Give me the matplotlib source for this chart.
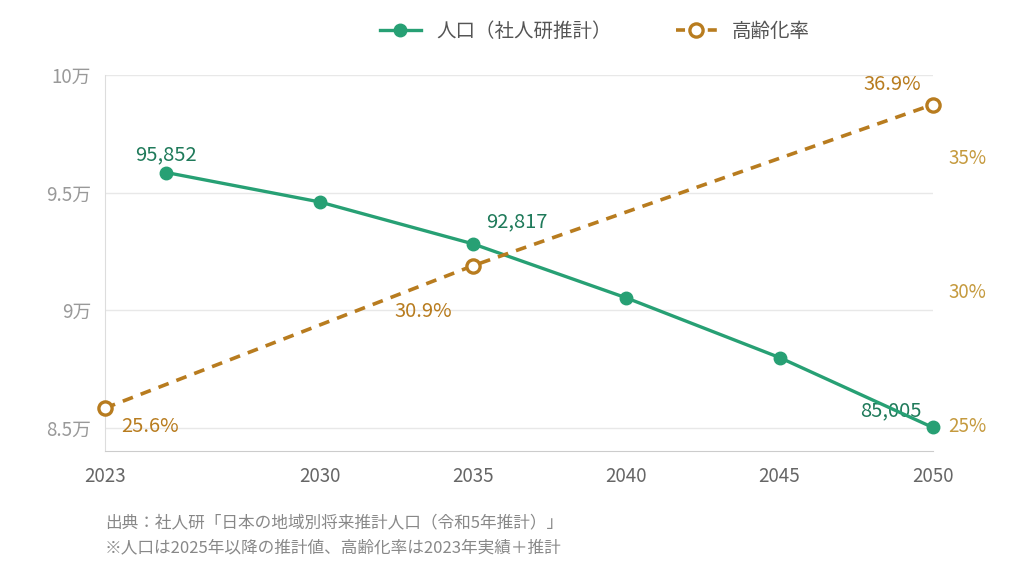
import matplotlib
matplotlib.use("Agg")
import matplotlib.pyplot as plt
from matplotlib.lines import Line2D
from matplotlib.ticker import FixedLocator, FuncFormatter

plt.rcParams['font.family'] = ['Noto Sans CJK JP', 'DejaVu Sans']

# data
pop_years = [2025, 2030, 2035, 2040, 2045, 2050]
population = [95852, 94600, 92817, 90520, 87980, 85005]
aging_years = [2023, 2035, 2050]
aging_rate = [25.6, 30.9, 36.9]
x_ticks = [2023, 2030, 2035, 2040, 2045, 2050]
pop_ticks = [85000, 90000, 95000, 100000]
pop_tick_labels = ['8.5万', '9万', '9.5万', '10万']
rate_ticks = [25, 30, 35]

GREEN = '#27a074'
GREEN_TXT = '#1f7a5a'
GOLD = '#b87c1f'
GOLD_TICK = '#c59a3e'

fig = plt.figure(figsize=(10.24, 5.66), dpi=100)
ax = fig.add_axes([0.1025, 0.203, 0.8085, 0.6645])
ax2 = ax.twinx()

ax.set_xlim(2023, 2050)
ax.set_ylim(84000, 100000)
ax2.set_ylim(24, 38)

ax.yaxis.set_major_locator(FixedLocator(pop_ticks))
ax.set_yticklabels(pop_tick_labels)
ax.set_xticks(x_ticks)
ax2.set_yticks(rate_ticks)
ax2.yaxis.set_major_formatter(FuncFormatter(lambda v, p: f'{v:.0f}%'))

ax.grid(axis='y', color='#e8e8e8', linewidth=1)
ax.set_axisbelow(True)
for s in ['top', 'right']:
    ax.spines[s].set_visible(False)
for s in ['top', 'right', 'left', 'bottom']:
    ax2.spines[s].set_visible(False)
ax.spines['left'].set_color('#dddddd')
ax.spines['bottom'].set_color('#cccccc')

ax.tick_params(axis='y', length=0, labelsize=13.5, labelcolor='#999999', pad=10)
ax.tick_params(axis='x', length=0, labelsize=13.5, labelcolor='#666666', pad=11)
ax2.tick_params(axis='y', length=0, labelsize=13.5, labelcolor=GOLD_TICK, pad=11)

l1, = ax.plot(pop_years, population, color=GREEN, lw=2.4, marker='o',
              markersize=9, clip_on=False, zorder=5, label='人口（社人研推計）')
ax2.plot(aging_years, aging_rate, color=GOLD, lw=2.6, ls=(0, (3, 2.3)),
         marker='o', markersize=9.5, markerfacecolor='white',
         markeredgewidth=2.4, clip_on=False, zorder=4)
# legend proxy so the dash pattern sits symmetric around the marker
l2 = Line2D([], [], color=GOLD, lw=2.6, ls=(0, (2.5, 6.3)), marker='o',
            markersize=9.5, markerfacecolor='white', markeredgewidth=2.4,
            label='高齢化率')

def lab(a, x, y, t, c, dx, dy, ha):
    a.annotate(t, (x, y), xytext=(dx, dy), textcoords='offset pixels',
               ha=ha, va='center', fontsize=14.5, color=c)

lab(ax, 2025, 95852, '95,852', GREEN_TXT, 0, 18, 'center')
lab(ax, 2035, 92817, '92,817', GREEN_TXT, 44, 22, 'center')
lab(ax, 2050, 85005, '85,005', GREEN_TXT, -42, 17, 'center')
lab(ax2, 2023, 25.6, '25.6%', GOLD, 45, -18, 'center')
lab(ax2, 2035, 30.9, '30.9%', GOLD, -50, -46, 'center')
lab(ax2, 2050, 36.9, '36.9%', GOLD, -41, 20, 'center')

fig.legend(handles=[l1, l2], loc='center', bbox_to_anchor=(0.581, 0.945),
           ncol=2, frameon=False, fontsize=14, labelcolor='#555555',
           handlelength=2.1, columnspacing=3.3, handletextpad=0.8)

fig.text(0.1025, 0.077, '出典：社人研「日本の地域別将来推計人口（令和5年推計）」',
         fontsize=12, color='#888888', va='center')
fig.text(0.1025, 0.032, '※人口は2025年以降の推計値、高齢化率は2023年実績＋推計',
         fontsize=12, color='#888888', va='center')

fig.savefig('out.png', dpi=100)
